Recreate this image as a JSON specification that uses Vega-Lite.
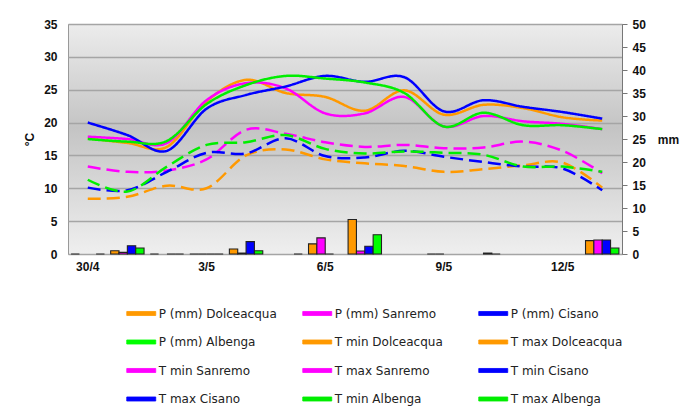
{
  "$schema": "https://vega.github.io/schema/vega-lite/v6.json",
  "background": "white",
  "padding": {"left": 68, "top": 24, "right": 61, "bottom": 156},
  "autosize": {"type": "none"},
  "config": {
    "view": {"stroke": null},
    "axis": {"labelFont": "Liberation Sans", "labelFontWeight": "bold", "labelFontSize": 12, "labelColor": "#111111", "titleFont": "Liberation Sans", "titleFontSize": 12, "titleFontWeight": "bold", "titleColor": "#111111"},
    "legend": {"orient": "none", "legendX": 58, "legendY": 281.5, "direction": "horizontal", "columns": 3, "gridAlign": "all", "columnPadding": 24, "rowPadding": 14.5, "symbolSize": 210, "symbolOffset": 7.25, "labelOffset": 9.5, "labelFont": "DejaVu Sans", "labelFontSize": 12, "labelColor": "#222222", "labelLimit": 300, "padding": 0, "symbolType": "M-2,-0.28H2V0.28H-2Z", "symbolStrokeColor": "#333333", "symbolStrokeWidth": 0.8}
  },
  "width": 554,
  "height": 230,
  "view": {"fill": {"gradient": "linear", "x1": 0, "y1": 0, "x2": 0, "y2": 1, "stops": [{"offset": 0, "color": "#ececec"}, {"offset": 0.45, "color": "#c4c4c4"}, {"offset": 1, "color": "#efefef"}]}, "stroke": "#999999"},
  "data": {"values": [
    {"d": "30/4", "P (mm) Dolceacqua": 0, "P (mm) Albenga": 0, "T min Dolceacqua": 8.4, "T max Dolceacqua": 17.6, "T min Sanremo": 13.3, "T max Sanremo": 17.85, "T min Cisano": 10.1, "T max Cisano": 20.0, "T min Albenga": 11.3, "T max Albenga": 17.5},
    {"d": "1/5", "P (mm) Dolceacqua": 0.7, "P (mm) Sanremo": 0.35, "P (mm) Cisano": 1.8, "P (mm) Albenga": 1.3, "T min Dolceacqua": 8.7, "T max Dolceacqua": 16.9, "T min Sanremo": 12.5, "T max Sanremo": 17.5, "T min Cisano": 9.7, "T max Cisano": 18.1, "T min Albenga": 9.5, "T max Albenga": 17.1},
    {"d": "2/5", "P (mm) Dolceacqua": 0, "P (mm) Cisano": 0, "P (mm) Albenga": 0, "T min Dolceacqua": 10.4, "T max Dolceacqua": 16.3, "T min Sanremo": 12.7, "T max Sanremo": 16.9, "T min Cisano": 12.5, "T max Cisano": 15.7, "T min Albenga": 13.3, "T max Albenga": 17.2},
    {"d": "3/5", "P (mm) Dolceacqua": 0, "P (mm) Sanremo": 0, "P (mm) Cisano": 0, "P (mm) Albenga": 0, "T min Dolceacqua": 10.0, "T max Dolceacqua": 23.2, "T min Sanremo": 14.4, "T max Sanremo": 23.4, "T min Cisano": 15.4, "T max Cisano": 22.1, "T min Albenga": 16.6, "T max Albenga": 22.8},
    {"d": "4/5", "P (mm) Dolceacqua": 1.1, "P (mm) Sanremo": 0.2, "P (mm) Cisano": 2.7, "P (mm) Albenga": 0.7, "T min Dolceacqua": 15.0, "T max Dolceacqua": 26.5, "T min Sanremo": 18.9, "T max Sanremo": 26.0, "T min Cisano": 15.3, "T max Cisano": 24.2, "T min Albenga": 17.0, "T max Albenga": 25.7},
    {"d": "5/5", "P (mm) Albenga": 0, "T min Dolceacqua": 15.9, "T max Dolceacqua": 24.5, "T min Sanremo": 18.3, "T max Sanremo": 25.2, "T min Cisano": 17.6, "T max Cisano": 25.5, "T min Albenga": 18.1, "T max Albenga": 27.1},
    {"d": "6/5", "P (mm) Dolceacqua": 2.2, "P (mm) Sanremo": 3.5, "P (mm) Cisano": 0, "T min Dolceacqua": 14.4, "T max Dolceacqua": 23.9, "T min Sanremo": 17.0, "T max Sanremo": 21.4, "T min Cisano": 14.9, "T max Cisano": 27.1, "T min Albenga": 16.0, "T max Albenga": 26.7},
    {"d": "7/5", "P (mm) Dolceacqua": 7.5, "P (mm) Sanremo": 0.65, "P (mm) Cisano": 1.7, "P (mm) Albenga": 4.2, "T min Dolceacqua": 13.8, "T max Dolceacqua": 21.8, "T min Sanremo": 16.3, "T max Sanremo": 21.4, "T min Cisano": 14.7, "T max Cisano": 26.2, "T min Albenga": 15.3, "T max Albenga": 26.1},
    {"d": "8/5", "T min Dolceacqua": 13.4, "T max Dolceacqua": 24.9, "T min Sanremo": 16.6, "T max Sanremo": 23.9, "T min Cisano": 15.7, "T max Cisano": 26.9, "T min Albenga": 15.6, "T max Albenga": 24.5},
    {"d": "9/5", "P (mm) Dolceacqua": 0, "P (mm) Sanremo": 0, "T min Dolceacqua": 12.5, "T max Dolceacqua": 21.2, "T min Sanremo": 16.1, "T max Sanremo": 19.4, "T min Cisano": 14.8, "T max Cisano": 21.7, "T min Albenga": 15.4, "T max Albenga": 19.4},
    {"d": "10/5", "P (mm) Cisano": 0.2, "P (mm) Albenga": 0, "T min Dolceacqua": 12.9, "T max Dolceacqua": 22.7, "T min Sanremo": 16.2, "T max Sanremo": 21.0, "T min Cisano": 14.0, "T max Cisano": 23.4, "T min Albenga": 15.1, "T max Albenga": 21.5},
    {"d": "11/5", "T min Dolceacqua": 13.5, "T max Dolceacqua": 22.2, "T min Sanremo": 17.1, "T max Sanremo": 20.2, "T min Cisano": 13.3, "T max Cisano": 22.4, "T min Albenga": 13.3, "T max Albenga": 19.6},
    {"d": "12/5", "T min Dolceacqua": 13.9, "T max Dolceacqua": 20.8, "T min Sanremo": 15.7, "T max Sanremo": 19.8, "T min Cisano": 13.0, "T max Cisano": 21.6, "T min Albenga": 13.3, "T max Albenga": 19.6},
    {"d": "13/5", "P (mm) Dolceacqua": 2.9, "P (mm) Sanremo": 3.05, "P (mm) Cisano": 3.05, "P (mm) Albenga": 1.3, "T min Dolceacqua": 10.1, "T max Dolceacqua": 20.3, "T min Sanremo": 12.3, "T max Sanremo": 19.0, "T min Cisano": 9.7, "T max Cisano": 20.6, "T min Albenga": 12.5, "T max Albenga": 19.0}
  ]},
  "transform": [
    {"fold": ["P (mm) Dolceacqua", "P (mm) Sanremo", "P (mm) Cisano", "P (mm) Albenga", "T min Dolceacqua", "T max Dolceacqua", "T min Sanremo", "T max Sanremo", "T min Cisano", "T max Cisano", "T min Albenga", "T max Albenga"], "as": ["s", "v"]}
  ],
  "encoding": {
    "x": {"field": "d", "type": "nominal", "sort": ["30/4", "1/5", "2/5", "3/5", "4/5", "5/5", "6/5", "7/5", "8/5", "9/5", "10/5", "11/5", "12/5", "13/5"], "scale": {"paddingInner": 0, "paddingOuter": 0}, "axis": {"title": null, "labelAngle": 0, "values": ["30/4", "3/5", "6/5", "9/5", "12/5"], "ticks": false, "domain": false, "grid": false, "labelPadding": 7}},
    "color": {"field": "s", "type": "nominal", "scale": {"domain": ["P (mm) Dolceacqua", "P (mm) Sanremo", "P (mm) Cisano", "P (mm) Albenga", "T min Dolceacqua", "T max Dolceacqua", "T min Sanremo", "T max Sanremo", "T min Cisano", "T max Cisano", "T min Albenga", "T max Albenga"], "range": ["#ff9900", "#ff00ff", "#0000ff", "#00ff00", "#ff9900", "#ff9900", "#ff00ff", "#ff00ff", "#0000ff", "#0000ff", "#00ee00", "#00ee00"]}, "legend": {"title": null}}
  },
  "layer": [
    {
      "transform": [{"filter": "indexof(datum.s,'P (mm)')===0"}],
      "mark": {"type": "bar", "stroke": "#222222", "strokeWidth": 1.1},
      "encoding": {
        "xOffset": {"field": "s", "type": "nominal", "sort": ["P (mm) Dolceacqua", "P (mm) Sanremo", "P (mm) Cisano", "P (mm) Albenga"], "scale": {"paddingInner": 0, "paddingOuter": 0.37}},
        "y": {"field": "v", "type": "quantitative", "stack": null, "scale": {"domain": [0, 50], "nice": false}, "axis": {"orient": "right", "title": "mm", "titleAngle": 0, "titleAlign": "left", "titleBaseline": "middle", "titlePadding": 12, "values": [0, 5, 10, 15, 20, 25, 30, 35, 40, 45, 50], "grid": false, "domain": true, "domainColor": "#777777", "ticks": true, "tickSize": 5, "tickColor": "#777777", "labelPadding": 5}}
      }
    },
    {
      "transform": [{"filter": "indexof(datum.s,'T ')===0"}],
      "mark": {"type": "line", "interpolate": "cardinal", "strokeWidth": 2.5, "strokeCap": "butt"},
      "encoding": {
        "y": {"field": "v", "type": "quantitative", "scale": {"domain": [0, 35], "nice": false}, "axis": {"orient": "left", "title": "°C", "titlePadding": 7, "values": [0, 5, 10, 15, 20, 25, 30, 35], "grid": true, "gridColor": "#a5a5a5", "gridWidth": 1.5, "domain": false, "ticks": false, "labelPadding": 11}},
        "strokeDash": {"field": "s", "type": "nominal", "scale": {"domain": ["T min Dolceacqua", "T max Dolceacqua", "T min Sanremo", "T max Sanremo", "T min Cisano", "T max Cisano", "T min Albenga", "T max Albenga"], "range": [[13, 6], [1, 0], [13, 6], [1, 0], [13, 6], [1, 0], [13, 6], [1, 0]]}, "legend": null}
      }
    }
  ],
  "resolve": {"scale": {"y": "independent"}}
}
